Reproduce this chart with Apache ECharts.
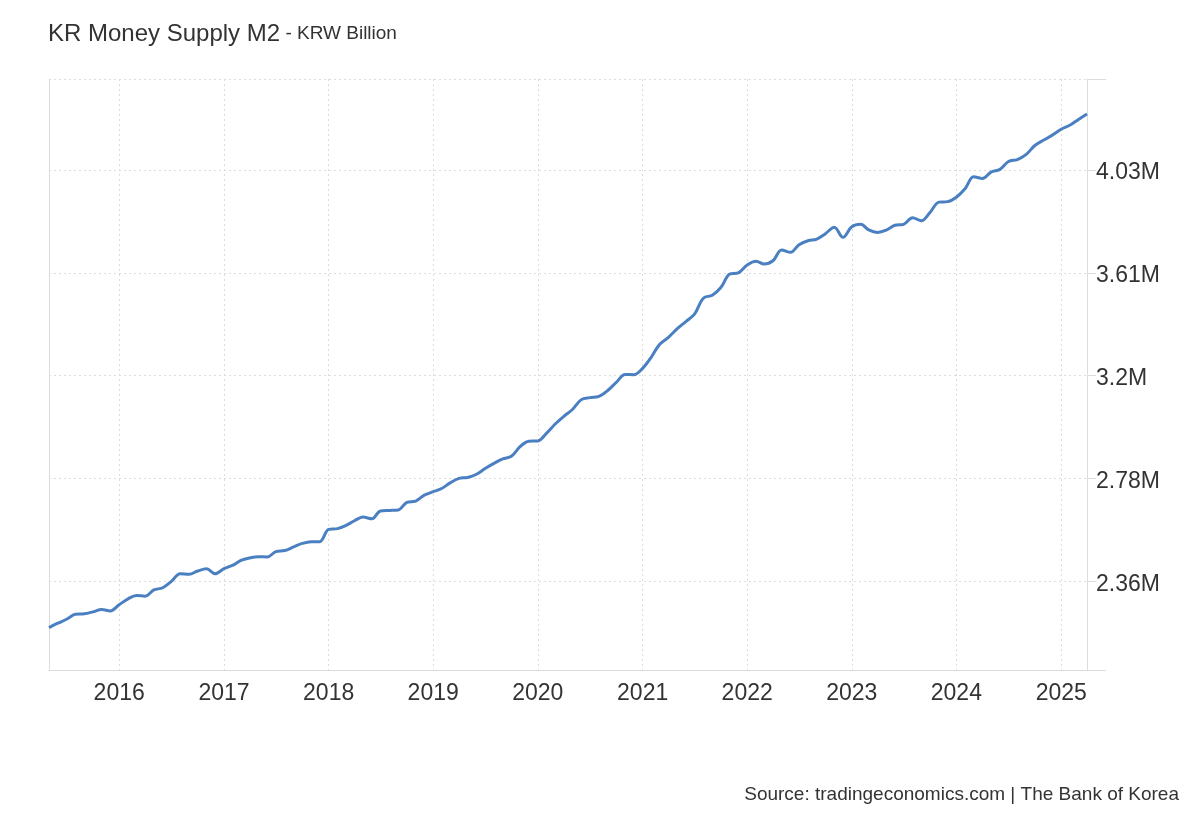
<!DOCTYPE html>
<html><head><meta charset="utf-8">
<script src="https://cdn.jsdelivr.net/npm/echarts@6/dist/echarts.min.js"></script>
<style>html,body{margin:0;padding:0;background:#fff}#c{width:1200px;height:820px}</style>
</head><body><div id="c"></div>
<script>
// Monthly KR M2 (KRW Billion), May 2015 .. Apr 2025
const startYear = 2015, startMonth = 5;
const m2Values = [
  // 2015 May-Dec
  2172000, 2190000, 2206000, 2226000, 2228000, 2236000, 2246000, 2240000,
  // 2016
  2265000, 2289000, 2303000, 2300000, 2325000, 2334000, 2360000, 2391000, 2389000, 2402000, 2411000, 2391000,
  // 2017
  2412000, 2426000, 2445000, 2455000, 2460000, 2459000, 2481000, 2485000, 2500000, 2514000, 2521000, 2521000,
  // 2018
  2571000, 2574000, 2586000, 2606000, 2621000, 2614000, 2646000, 2648000, 2650000, 2681000, 2686000, 2710000,
  // 2019
  2724000, 2738000, 2760000, 2778000, 2782000, 2795000, 2818000, 2839000, 2857000, 2868000, 2908000, 2929000,
  // 2020
  2930000, 2962000, 2998000, 3030000, 3058000, 3098000, 3106000, 3111000, 3135000, 3168000, 3200000, 3199000,
  // 2021
  3225000, 3272000, 3322000, 3351000, 3385000, 3415000, 3445000, 3510000, 3522000, 3553000, 3608000, 3613000,
  // 2022
  3645000, 3660000, 3649000, 3662000, 3706000, 3696000, 3727000, 3743000, 3750000, 3772000, 3798000, 3757000,
  // 2023
  3800000, 3810000, 3787000, 3777000, 3786000, 3806000, 3810000, 3837000, 3824000, 3858000, 3900000, 3902000,
  // 2024
  3920000, 3955000, 4003000, 3996000, 4022000, 4033000, 4065000, 4073000, 4094000, 4130000, 4152000, 4172000,
  // 2025 Jan-Apr
  4196000, 4213000, 4235000, 4258000
];
const yearLabels = [2016, 2017, 2018, 2019, 2020, 2021, 2022, 2023, 2024, 2025];
const yTickValues = [2360000, 2777500, 3195000, 3612500, 4030000];
const yTickLabels = ['2.36M', '2.78M', '3.2M', '3.61M', '4.03M'];
const yMin = 2000000, yMax = 4400000;

const dates = m2Values.map((v, i) => {
  const m = startMonth - 1 + i;
  return Date.UTC(startYear + Math.floor(m / 12), m % 12, 1);
});
const yearTicks = yearLabels.map(y => Date.UTC(y, 0, 1));
const FONT = '"Liberation Sans", Arial, Helvetica, sans-serif';
const GRID = '#dcdcdc';

const chart = echarts.init(document.getElementById('c'), null, {renderer: 'canvas'});
chart.setOption({
  animation: false,
  backgroundColor: '#fff',
  textStyle: {fontFamily: FONT},
  title: [{
    text: '{a|KR Money Supply M2}{b| - KRW Billion}',
    left: 48, top: 22, padding: 0,
    textStyle: {
      fontFamily: FONT, fontWeight: 'normal',
      rich: {
        a: {fontSize: 24, color: '#333', fontFamily: FONT, fontWeight: 'normal'},
        b: {fontSize: 19, color: '#333', fontFamily: FONT, fontWeight: 'normal'}
      }
    }
  }, {
    text: 'Source: tradingeconomics.com | The Bank of Korea',
    right: 21, top: 785, padding: 0,
    textStyle: {fontSize: 19, fontWeight: 'normal', color: '#333', fontFamily: FONT}
  }],
  grid: {left: 49, right: 113, top: 79, bottom: 150, outerBoundsMode: 'none', containLabel: false},
  xAxis: {
    type: 'value',
    min: dates[0], max: dates[dates.length - 1],
    axisLine: {show: true, lineStyle: {color: GRID, width: 1}},
    axisTick: {show: false, customValues: yearTicks},
    axisLabel: {
      customValues: yearTicks,
      formatter: v => String(new Date(v).getUTCFullYear()),
      fontSize: 23, color: '#333', margin: 12, fontFamily: FONT,
      showMinLabel: true, showMaxLabel: true, hideOverlap: false
    },
    splitLine: {show: true, lineStyle: {color: GRID, type: [2, 3], width: 1}}
  },
  yAxis: [{
    type: 'value', position: 'right', min: yMin, max: yMax,
    axisLine: {show: true, lineStyle: {color: GRID, width: 1}},
    axisTick: {show: true, length: 9, customValues: yTickValues, lineStyle: {color: GRID}},
    axisLabel: {
      customValues: yTickValues,
      formatter: v => {
        let best = 0;
        yTickValues.forEach((t, i) => { if (Math.abs(t - v) < Math.abs(yTickValues[best] - v)) best = i; });
        return '{v|' + yTickLabels[best] + '}';
      },
      rich: {v: {fontSize: 23, color: '#333', fontFamily: FONT, padding: [6, 0, 0, 0]}},
      fontSize: 23, color: '#333', margin: 9, fontFamily: FONT,
      showMinLabel: true, showMaxLabel: true
    },
    splitLine: {show: true, lineStyle: {color: GRID, type: [2, 3], width: 1}}
  }, {
    type: 'value', position: 'right', min: yMin, max: yMax,
    axisLine: {show: false},
    axisTick: {show: true, length: 19, customValues: [yMin, yMax], lineStyle: {color: GRID}},
    axisLabel: {show: false},
    splitLine: {show: true, lineStyle: {color: GRID, type: [2, 3], width: 1}}
  }, {
    type: 'value', position: 'left', min: yMin, max: yMax,
    axisLine: {show: true, lineStyle: {color: GRID, width: 1}},
    axisTick: {show: false},
    axisLabel: {show: false},
    splitLine: {show: false}
  }],
  series: [{
    type: 'line',
    yAxisIndex: 0,
    data: dates.map((d, i) => [d, m2Values[i]]),
    showSymbol: false,
    smooth: 0.35,
    lineStyle: {color: '#4a7fc1', width: 3},
    itemStyle: {color: '#4a7fc1'}
  }]
});
</script></body></html>
